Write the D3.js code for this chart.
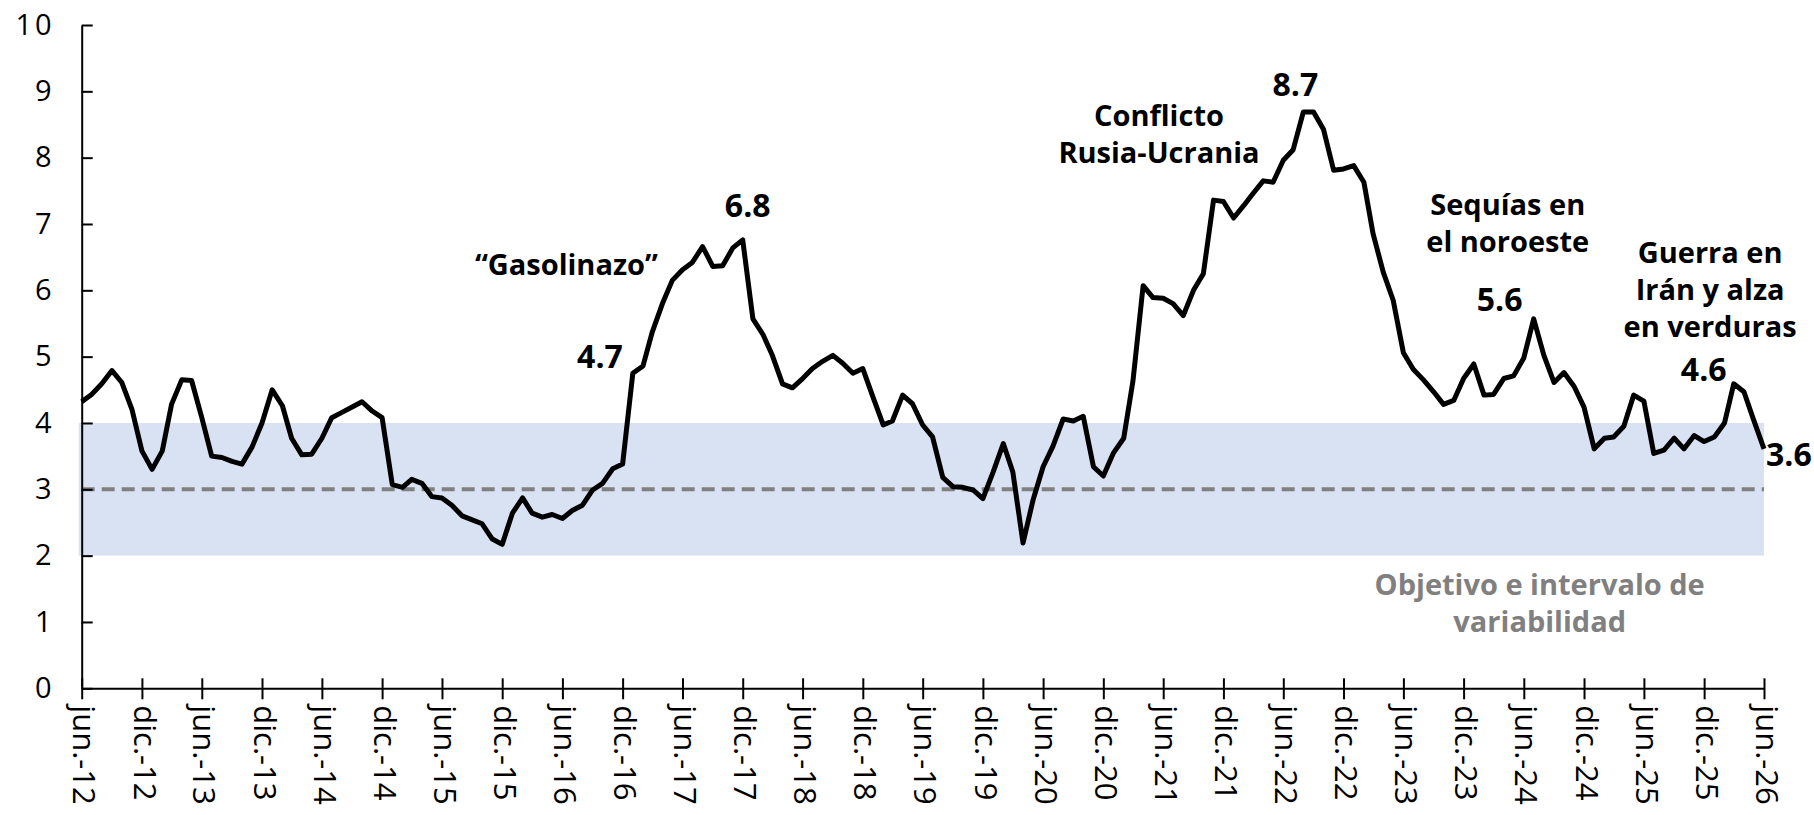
<!DOCTYPE html>
<html>
<head>
<meta charset="utf-8">
<script src="https://cdn.jsdelivr.net/npm/d3@7"></script>
<style>
  html, body { margin: 0; padding: 0; background: #fff; }
  svg { display: block; font-family: "Open Sans", sans-serif; }
  .annot { font-weight: 700; font-size: 29px; fill: #000; }
  .val { font-weight: 700; font-size: 32px; fill: #000; }
</style>
</head>
<body>
<svg id="chart"></svg>
<script>
// inflacion general anual, jun-12 a jun-26 (mensual)

const startMonth = new Date(2012, 5, 1);

const inflation = [
  4.32, 4.43, 4.59, 4.79, 4.61, 4.20, 3.58, 3.30, 3.58, 4.28, 4.65, 4.64,
  4.08, 3.50, 3.48, 3.42, 3.38, 3.64, 4.00, 4.50, 4.26, 3.77, 3.52, 3.53,
  3.77, 4.08, 4.16, 4.24, 4.32, 4.18, 4.08, 3.07, 3.03, 3.15, 3.09, 2.89,
  2.87, 2.76, 2.60, 2.54, 2.48, 2.25, 2.17, 2.64, 2.87, 2.64, 2.58, 2.62,
  2.56, 2.68, 2.76, 2.99, 3.09, 3.31, 3.38, 4.75, 4.86, 5.37, 5.80, 6.15,
  6.31, 6.42, 6.66, 6.36, 6.37, 6.64, 6.76, 5.57, 5.33, 5.02, 4.59, 4.53,
  4.67, 4.82, 4.93, 5.02, 4.90, 4.75, 4.82, 4.39, 3.97, 4.03, 4.42, 4.29,
  3.97, 3.79, 3.18, 3.04, 3.03, 2.99, 2.86, 3.26, 3.69, 3.26, 2.19, 2.83,
  3.34, 3.65, 4.06, 4.03, 4.10, 3.34, 3.20, 3.55, 3.77, 4.63, 6.07, 5.89,
  5.88, 5.80, 5.62, 6.00, 6.25, 7.36, 7.34, 7.09, 7.28, 7.46, 7.65, 7.63,
  7.96, 8.12, 8.69, 8.69, 8.43, 7.81, 7.83, 7.88, 7.63, 6.85, 6.27, 5.85,
  5.06, 4.81, 4.65, 4.47, 4.28, 4.34, 4.67, 4.89, 4.42, 4.43, 4.67, 4.71,
  4.98, 5.57, 5.02, 4.61, 4.76, 4.55, 4.24, 3.61, 3.77, 3.79, 3.95, 4.42,
  4.33, 3.54, 3.59, 3.77, 3.61, 3.81, 3.72, 3.79, 4.00, 4.59, 4.47, 4.04,
  3.61
];

const yTicks = [0, 1, 2, 3, 4, 5, 6, 7, 8, 9, 10];
const monthAbbr = { 5: 'jun.', 11: 'dic.' };
const targetBand = [2, 4];
const target = 3;

// etiquetas de valores: indice del mes y texto
const valueLabels = [
  { i: 55, text: '4.7' },
  { i: 66, text: '6.8' },
  { i: 122, text: '8.7' },
  { i: 145, text: '5.6' },
  { i: 165, text: '4.6' },
  { i: 168, text: '3.6' }
];

const notes = [
  { i: 48.4, v: 6.23, lines: ['\u201cGasolinazo\u201d'] },
  { i: 107.6, v: 8.48, lines: ['Conflicto', 'Rusia-Ucrania'] },
  { i: 142.4, v: 7.14, lines: ['Sequías en', 'el noroeste'] },
  { i: 162.6, v: 6.41, lines: ['Guerra en', 'Irán y alza', 'en verduras'] }
];
const bandNote = { i: 145.6, v: 1.41, lines: ['Objetivo e intervalo de', 'variabilidad'] };

const W = 1814, H = 815;
const plotLeft = 81.7, plotRight = 1764, plotTop = 25, plotBottom = 688.3;

const months = d3.timeMonth.range(startMonth, d3.timeMonth.offset(startMonth, inflation.length));
const data = months.map((d, i) => ({ date: d, value: inflation[i] }));

const svg = d3.select('#chart').attr('width', W).attr('height', H);

const x = d3.scaleTime()
  .domain([months[0], months[months.length - 1]])
  .range([plotLeft, plotRight]);
const y = d3.scaleLinear().domain([0, 10]).range([plotBottom, plotTop]);
const xAt = i => x(d3.timeMonth.offset(startMonth, Math.floor(i))) + (i % 1) * 10.02;

// banda de variabilidad
svg.append('rect')
  .attr('x', plotLeft - 3)
  .attr('y', y(targetBand[1]))
  .attr('width', plotRight - plotLeft + 3)
  .attr('height', y(targetBand[0]) - y(targetBand[1]))
  .attr('fill', '#d9e2f3');

svg.append('line')
  .attr('x1', plotLeft).attr('x2', plotRight)
  .attr('y1', y(target)).attr('y2', y(target))
  .attr('stroke', '#808080')
  .attr('stroke-width', 4)
  .attr('stroke-dasharray', '13,7');

// ejes
const yAxis = svg.append('g')
  .attr('transform', 'translate(' + plotLeft + ',0)')
  .call(d3.axisLeft(y).tickValues(yTicks).tickSizeInner(-11).tickSizeOuter(0).tickPadding(27));
yAxis.select('.domain').attr('stroke', '#000').attr('stroke-width', 2);
yAxis.selectAll('.tick line').attr('stroke', '#000').attr('stroke-width', 2);
yAxis.selectAll('.tick text')
  .style('font-family', '"Open Sans", sans-serif')
  .style('font-size', '29px')
  .style('letter-spacing', '3px')
  .attr('fill', '#000');

const tickDates = months.filter(d => monthAbbr[d.getMonth()] !== undefined);
const xAxis = svg.append('g')
  .attr('transform', 'translate(0,' + plotBottom + ')')
  .call(d3.axisBottom(x).tickValues(tickDates).tickSizeInner(11).tickSizeOuter(0)
    .tickFormat(d => monthAbbr[d.getMonth()] + '-' + d3.timeFormat('%y')(d)));
xAxis.select('.domain').attr('stroke', '#000').attr('stroke-width', 2);
xAxis.selectAll('.tick line').attr('stroke', '#000').attr('stroke-width', 2).attr('y1', -10);
xAxis.selectAll('.tick text')
  .attr('transform', 'rotate(90)')
  .attr('x', 17).attr('y', -2).attr('dy', '0.35em')
  .style('text-anchor', 'start')
  .style('font-family', '"Open Sans", sans-serif')
  .style('font-size', '31px')
  .style('font-weight', 400)
  .attr('fill', '#000');

// serie
const line = d3.line().x(d => x(d.date)).y(d => y(d.value));
svg.append('path')
  .datum(data)
  .attr('fill', 'none')
  .attr('stroke', '#000')
  .attr('stroke-width', 5)
  .attr('stroke-linejoin', 'round')
  .attr('d', line);

// etiquetas de valor
const labelOffset = {
  '4.7': [-10, -5, 'end'],
  '6.8': [5, -23, 'middle'],
  '8.7': [-8, -16, 'middle'],
  '5.6': [-34, -8, 'middle'],
  '4.6': [-30, -3, 'middle'],
  '3.6': [2, 17, 'start']
};
valueLabels.forEach(l => {
  const o = labelOffset[l.text];
  svg.append('text')
    .attr('class', 'val')
    .attr('x', x(data[l.i].date) + o[0])
    .attr('y', y(data[l.i].value) + o[1])
    .attr('text-anchor', o[2])
    .text(l.text);
});

function drawNote(n, color) {
  const t = svg.append('text')
    .attr('class', 'annot')
    .attr('text-anchor', 'middle')
    .attr('x', xAt(n.i))
    .attr('y', y(n.v))
    .style('fill', color);
  n.lines.forEach((s, k) => {
    t.append('tspan').attr('x', xAt(n.i)).attr('dy', k === 0 ? 0 : 37).text(s);
  });
}
notes.forEach(n => drawNote(n, '#000'));
drawNote(bandNote, '#808080');
</script>
</body>
</html>
